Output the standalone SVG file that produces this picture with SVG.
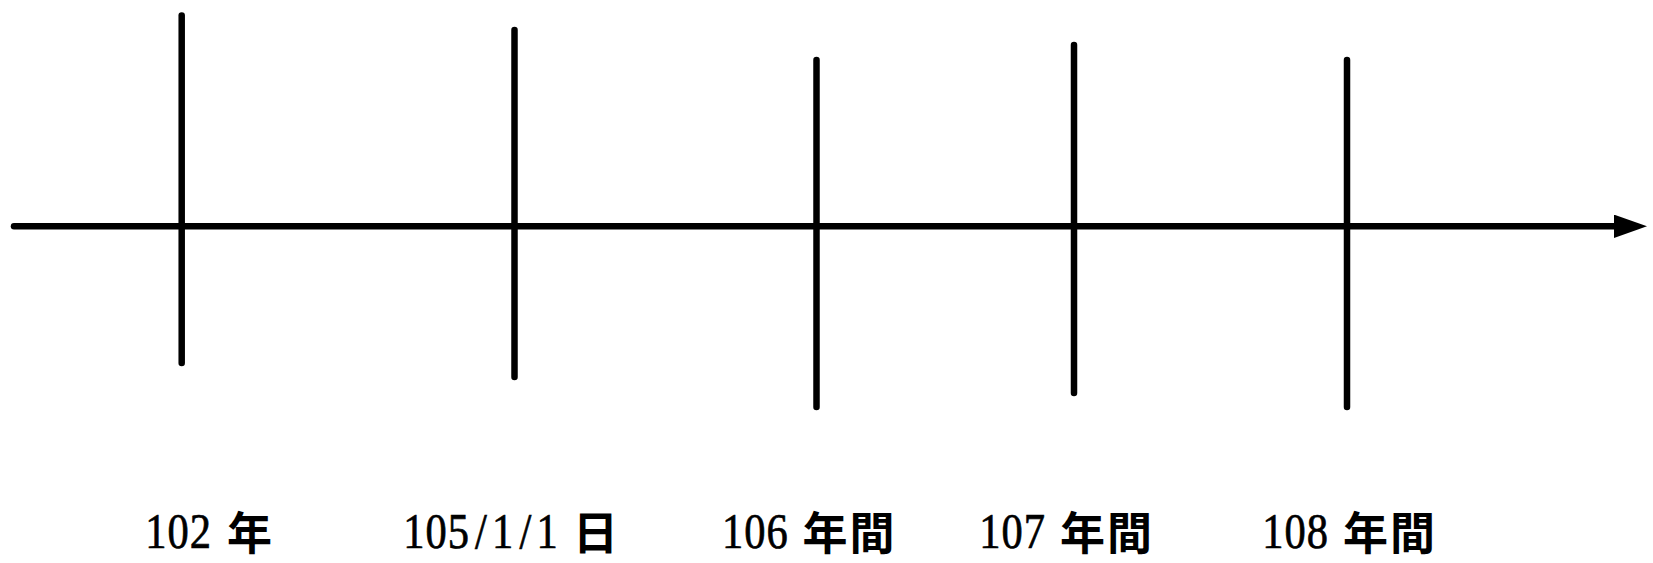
<svg xmlns="http://www.w3.org/2000/svg" width="1653" height="563" viewBox="0 0 1653 563">
  <style>
    .tick { stroke: #000; stroke-width: 6.5; stroke-linecap: round; fill: none; }
    .axis { stroke: #000; stroke-width: 6.5; stroke-linecap: round; fill: none; }
    .num { font-family: "Liberation Serif", serif; font-size: 50px; fill: #000; stroke: #000; stroke-width: 0.7; }
    .cjk { font-family: "Noto Sans CJK TC", "Noto Sans CJK SC", sans-serif; font-size: 45px; font-weight: 700; fill: #000; }
  </style>
  <defs>
    <marker id="arrow" viewBox="0 0 33 23.4" refX="2" refY="11.7" markerWidth="33" markerHeight="23.4" markerUnits="userSpaceOnUse" orient="auto">
      <path d="M0,0 L33,11.7 L0,23.4 Z" fill="#000"/>
    </marker>
  </defs>
  <rect width="1653" height="563" fill="#fff"/>
  <g id="connectors">
    <line class="axis" x1="14" y1="226.3" x2="1616" y2="226.3" marker-end="url(#arrow)"/>
  </g>
  <g id="node-102">
    <line class="tick" x1="181.7" y1="15.5" x2="181.7" y2="363"/>
    <text class="num" transform="translate(145.3,547.5) scale(0.85,1)" x="0 26.12 52.24">102</text>
    <text class="cjk" x="227" y="550">年</text>
  </g>
  <g id="node-105">
    <line class="tick" x1="514.5" y1="30" x2="514.5" y2="377"/>
    <text class="num" transform="translate(403.3,547.5) scale(0.85,1)" x="0 26.12 52.24 84.46 104.48 136.7 156.72">105/1/1</text>
    <text class="cjk" x="573" y="550">日</text>
  </g>
  <g id="node-106">
    <line class="tick" x1="816.5" y1="60" x2="816.5" y2="407"/>
    <text class="num" transform="translate(722,547.5) scale(0.85,1)" x="0 26.12 52.24">106</text>
    <text class="cjk" x="802.5" y="550">年<tspan dx="2">間</tspan></text>
  </g>
  <g id="node-107">
    <line class="tick" x1="1074" y1="45" x2="1074" y2="393"/>
    <text class="num" transform="translate(979.3,547.5) scale(0.85,1)" x="0 26.12 52.24">107</text>
    <text class="cjk" x="1060" y="550">年<tspan dx="2">間</tspan></text>
  </g>
  <g id="node-108">
    <line class="tick" x1="1347" y1="60" x2="1347" y2="407"/>
    <text class="num" transform="translate(1262.3,547.5) scale(0.85,1)" x="0 26.12 52.24">108</text>
    <text class="cjk" x="1343" y="550">年<tspan dx="2">間</tspan></text>
  </g>
</svg>
